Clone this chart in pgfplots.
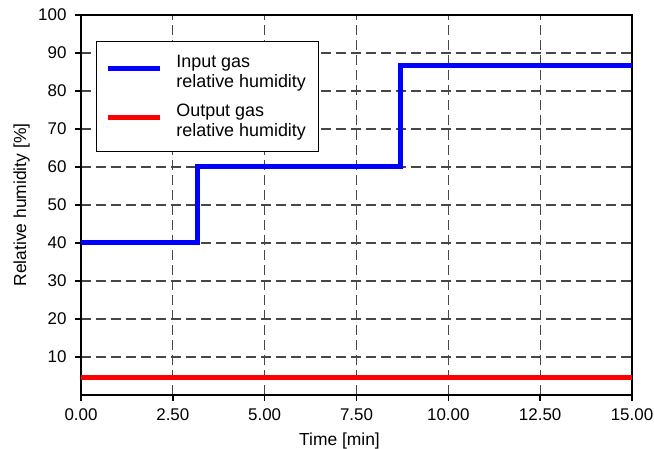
\documentclass[border=0pt]{standalone}
\usepackage{pgfplots}
\pgfplotsset{compat=1.18}
\usepackage{fontspec}
\setmainfont{Liberation Sans}
\begin{document}
\begin{tikzpicture}[x=1bp,y=1bp]
\begin{axis}[
  scale only axis,
  width=551bp, height=380bp,
  xmin=0, xmax=15, ymin=0, ymax=100,
  xtick={0,2.5,5,7.5,10,12.5,15},
  ytick={10,20,30,40,50,60,70,80,90,100},
  /pgf/number format/assume math mode=true,
  tick label style={font=\fontsize{17}{20}\selectfont},
  xticklabel style={yshift=-4bp, /pgf/number format/fixed, /pgf/number format/fixed zerofill, /pgf/number format/precision=2},
  yticklabel style={xshift=-5bp},
  label style={font=\fontsize{17.5}{20}\selectfont},
  xlabel={Time [min]},
  ylabel={Relative humidity [\%]},
  xlabel style={at={(axis description cs:0.5,0)}, anchor=base, yshift=-50bp, xshift=-17bp},
  ylabel style={at={(axis description cs:-0.0998,0.5)}, anchor=base},
  tick align=outside, tick pos=left,
  major tick length=6bp,
  every tick/.style={black, line width=1.5bp},
  axis line style={line width=2.4bp},
  grid=major,
  major grid style={black!72, line width=1.3bp, dash pattern=on 10bp off 5bp},
  legend cell align=left,
  legend style={at={(axis description cs:0.0272,0.9316)}, anchor=north west, draw=black, line width=0.8bp,
    font=\fontsize{18}{20}\selectfont, inner xsep=9bp, inner ysep=11.5bp, row sep=11bp, column sep=11bp,
    nodes={align=left, inner xsep=3bp, inner ysep=2bp}},
  legend image code/.code={\draw[#1, line width=5bp] (0bp,3.5bp) -- (52bp,3.5bp);},
]
\addplot[blue, line width=5bp, const plot] coordinates {(0,40) (3.16,60) (8.71,86.7) (15,86.7)};
\addlegendentry{Input gas\\relative humidity}
\addplot[red, line width=5bp] coordinates {(0,4.5) (15,4.5)};
\addlegendentry{Output gas\\relative humidity}
\end{axis}
\pgfresetboundingbox
\path ([shift={(-81bp,-54bp)}]current axis.south west) rectangle ([shift={(22bp,15bp)}]current axis.north east);
\end{tikzpicture}
\end{document}
